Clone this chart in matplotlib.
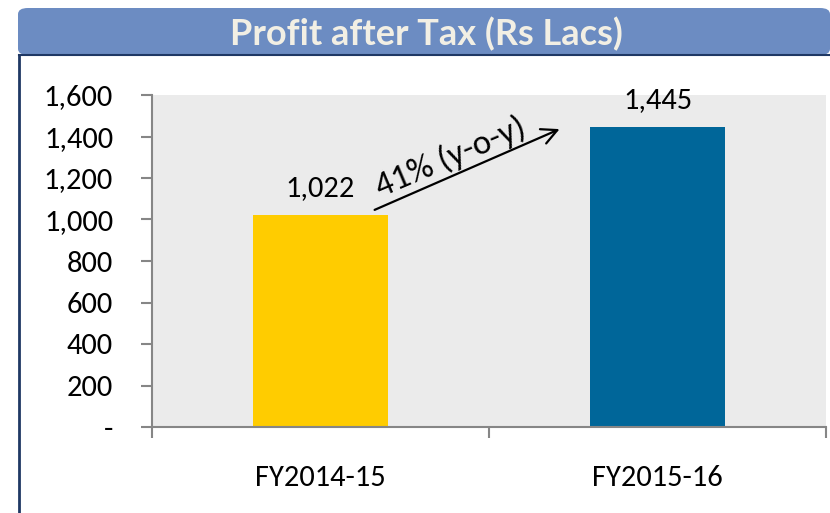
import matplotlib
matplotlib.use("Agg")
import matplotlib.pyplot as plt
from matplotlib.patches import FancyBboxPatch
from matplotlib.lines import Line2D
from matplotlib.ticker import FuncFormatter

categories = ["FY2014-15", "FY2015-16"]
values = [1022, 1445]
bar_colors = ["#FFCC00", "#006699"]
title = "Profit after Tax (Rs Lacs)"
growth_label = "41% (y-o-y)"
yticks = [0, 200, 400, 600, 800, 1000, 1200, 1400, 1600]

FONT = ["Carlito", "Lato", "DejaVu Sans"]
plt.rcParams["font.family"] = FONT

fig = plt.figure(figsize=(8.3, 5.13), dpi=100)
fig.patch.set_facecolor("white")

# title banner
banner = FancyBboxPatch((18 / 830, 1 - 55 / 513), (830 - 18) / 830, 47 / 513,
                        boxstyle="round,pad=0,rounding_size=0.012",
                        transform=fig.transFigure, facecolor="#6C8CC2",
                        edgecolor="none", zorder=1)
fig.patches.append(banner)
fig.text(426 / 830, 1 - 34 / 513, title, ha="center", va="center",
         fontsize=26, fontweight="bold", color="#F2EFE4",
         family=["Lato", "DejaVu Sans"])
# frame lines
fig.lines.append(Line2D([19 / 830, 19 / 830], [0, 1 - 55 / 513],
                        transform=fig.transFigure, color="#1F3864", lw=2))
fig.lines.append(Line2D([19 / 830, 1], [1 - 55 / 513, 1 - 55 / 513],
                        transform=fig.transFigure, color="#1F3864", lw=1.5))

ax = fig.add_axes([152 / 830, 1 - 427 / 513, (826 - 152) / 830, (427 - 95) / 513])
ax.set_facecolor("#EBEBEB")
x = list(range(len(categories)))
ax.bar(x, values, width=0.4, color=bar_colors, zorder=2)
ax.set_xlim(-0.5, 1.5)
ax.set_ylim(0, 1600)
ax.set_yticks(yticks)
ax.yaxis.set_major_formatter(FuncFormatter(lambda v, p: "-" if v == 0 else f"{int(v):,}"))
ax.set_xticks(x)
ax.set_xticklabels(categories)
ax.set_xticks([-0.5, 0.5, 1.5], minor=True)
ax.tick_params(axis="x", which="major", length=0, pad=27, labelsize=22)
ax.tick_params(axis="x", which="minor", length=8, width=1.5, color="#868686")
ax.tick_params(axis="y", length=8, width=1.5, color="#868686", labelsize=22, pad=20)
for s in ["top", "right"]:
    ax.spines[s].set_visible(False)
for s in ["left", "bottom"]:
    ax.spines[s].set_color("#868686")
    ax.spines[s].set_linewidth(1.5)

for xi, v in zip(x, values):
    ax.annotate(f"{v:,}", (xi, v), xytext=(0, 10), textcoords="offset points",
                ha="center", va="bottom", fontsize=22)

# growth arrow
ax.annotate("", xy=(0.717, 1441), xytext=(0.153, 1041),
            arrowprops=dict(arrowstyle="->", color="black", lw=1.6,
                            mutation_scale=28))
ax.text(0.385, 1300, growth_label, rotation=23, ha="center", va="center",
        fontsize=25, rotation_mode="anchor")

fig.savefig("out.png", dpi=100)
